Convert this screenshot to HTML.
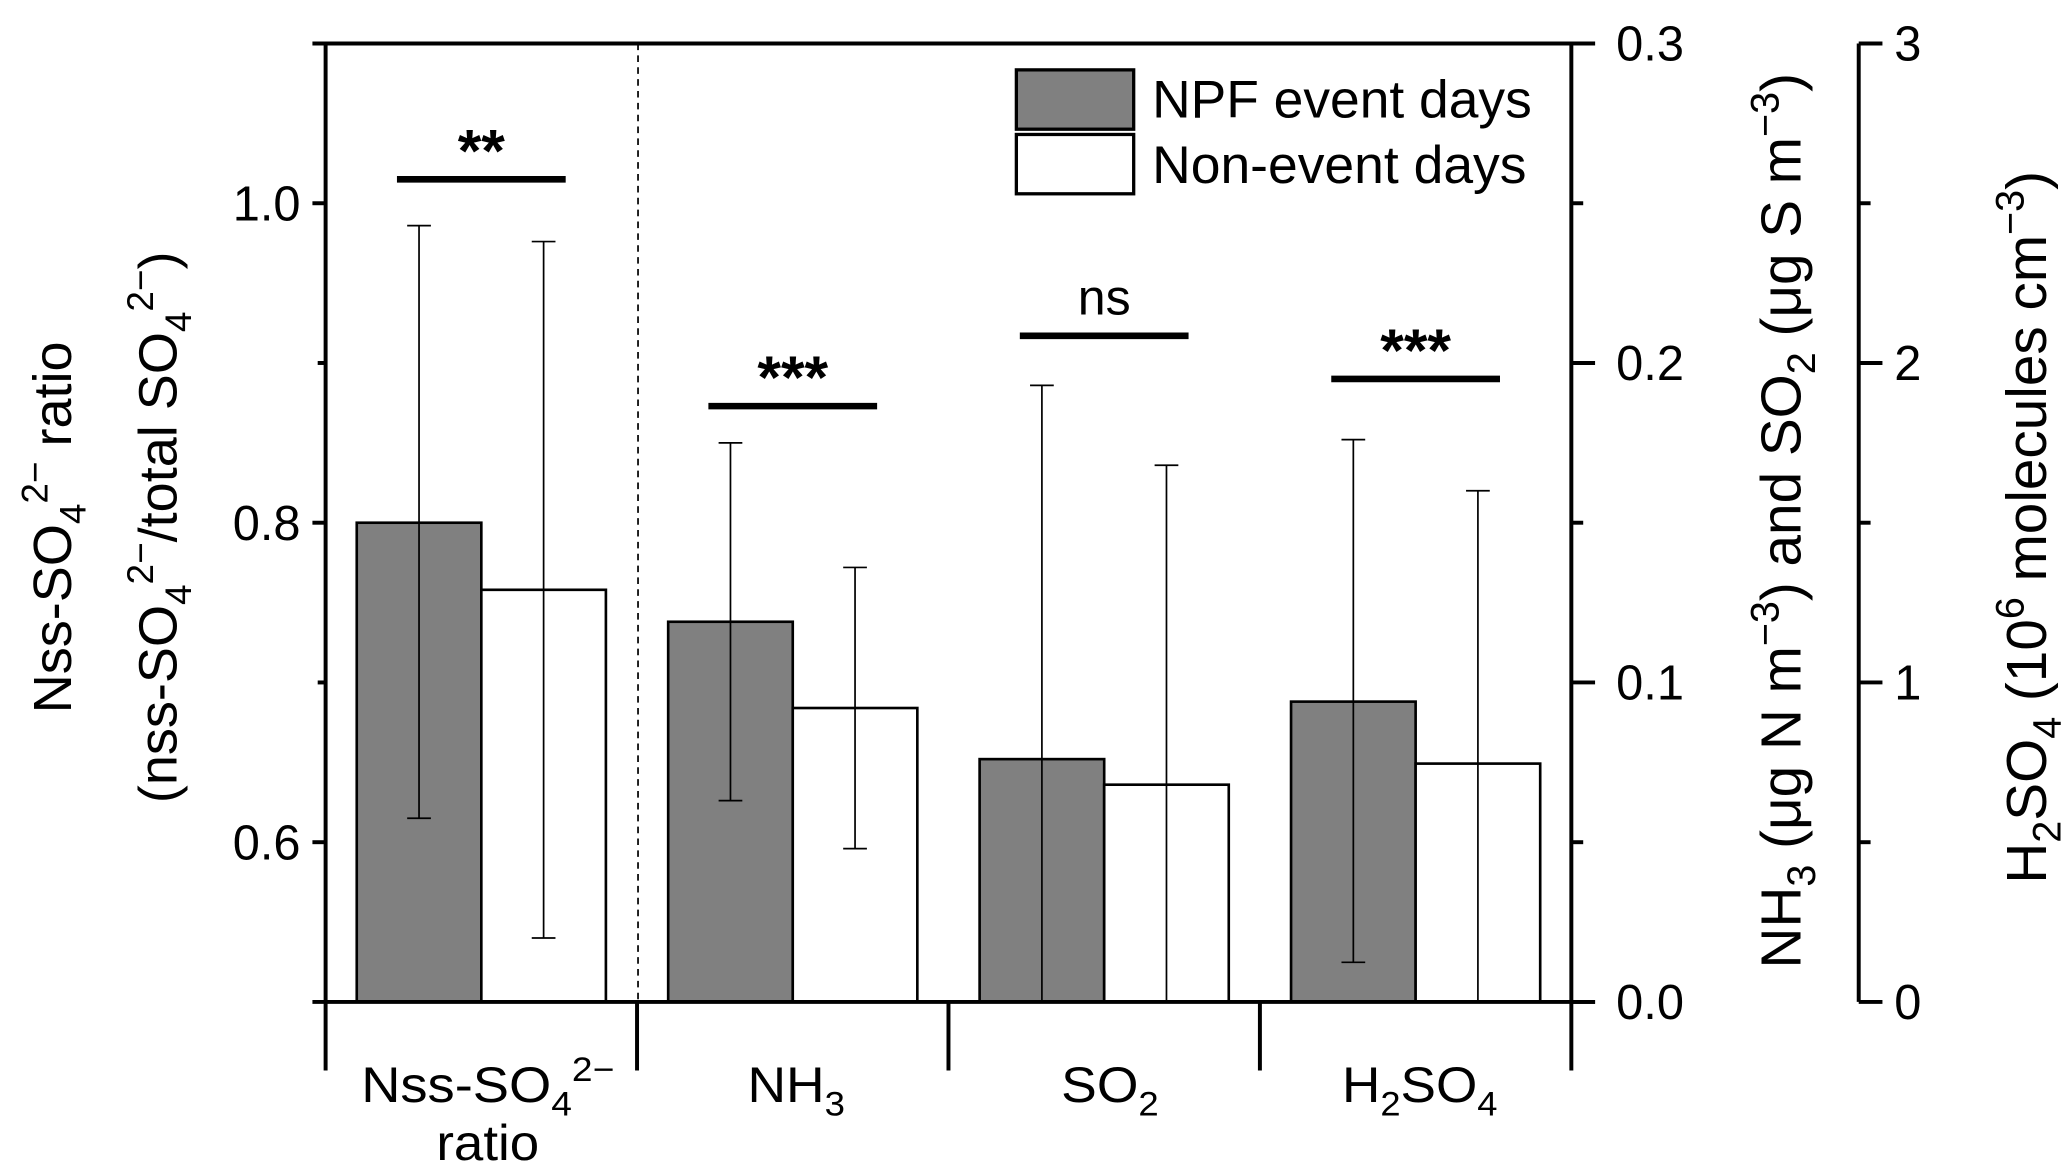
<!DOCTYPE html>
<html><head><meta charset="utf-8"><style>
html,body{margin:0;padding:0;background:#fff;}
svg{display:block;font-family:"Liberation Sans",Arial,sans-serif;}
</style></head><body>
<svg id="chart" width="2067" height="1172" viewBox="0 0 1568 889" preserveAspectRatio="none" xmlns="http://www.w3.org/2000/svg">
<defs><clipPath id="plotclip"><rect x="247" y="33" width="945" height="727"/></clipPath></defs>
<g id="marks" clip-path="url(#plotclip)"></g>
<g id="axes"></g>
</svg>
<script>
const categories = ["Nss-SO4 ratio","NH3","SO2","H2SO4"];
const axisOf = ["left","right","right","third"];
const npfValues = [0.800, 0.119, 0.076, 0.94];
const npfErrLow = [0.615, 0.063, -0.05, 0.124];
const npfErrHigh = [0.986, 0.175, 0.193, 1.76];
const nonValues = [0.758, 0.092, 0.068, 0.746];
const nonErrLow = [0.540, 0.048, -0.05, -0.2];
const nonErrHigh = [0.976, 0.136, 0.168, 1.60];
const sigLabels = ["**","***","ns","***"];
const sigLevelsLeft = [1.015, 0.873, 0.917, 0.890];
const leftTicks = [0.6, 0.8, 1.0];
const rightTicks = [0.0, 0.1, 0.2, 0.3];
const thirdTicks = [0, 1, 2, 3];

const NS="http://www.w3.org/2000/svg";
const TOP=33, BOT=760, L=247, R=1192, T3=1410;
const yLeft = v => BOT - (v-0.5)/(1.1-0.5)*(BOT-TOP);
const yRight = v => BOT - v/0.3*(BOT-TOP);
const yThird = v => BOT - v/3*(BOT-TOP);
const yFor = (i,v) => axisOf[i]==="left"?yLeft(v):axisOf[i]==="right"?yRight(v):yThird(v);
const groupW=(R-L)/categories.length;
const barW=94.5;
const marks=document.getElementById('marks');
const axes=document.getElementById('axes');
function mk(tag,attrs,parent){const e=document.createElementNS(NS,tag);for(const k in attrs)e.setAttribute(k,attrs[k]);(parent||axes).appendChild(e);return e;}

categories.forEach((c,i)=>{
  const cx=L+groupW*(i+0.5);
  const x1=cx-barW, x2=cx;
  const b1=mk('rect',{x:x1,y:yFor(i,npfValues[i]),width:barW,height:BOT-yFor(i,npfValues[i]),fill:'#808080',stroke:'#000','stroke-width':2},marks);
  
  
  const b2=mk('rect',{x:x2,y:yFor(i,nonValues[i]),width:barW,height:BOT-yFor(i,nonValues[i]),fill:'#fff',stroke:'#000','stroke-width':2},marks);
  
  
  [[x1+barW/2,npfErrLow[i],npfErrHigh[i]],[x2+barW/2,nonErrLow[i],nonErrHigh[i]]].forEach((e,j)=>{
    const g=mk('g',{},marks);
    
    
    const yl=yFor(i,e[1]), yh=yFor(i,e[2]);
    mk('line',{x1:e[0],x2:e[0],y1:yl,y2:yh,stroke:'#000','stroke-width':1.3},g);
    mk('line',{x1:e[0]-9,x2:e[0]+9,y1:yh,y2:yh,stroke:'#000','stroke-width':1.3},g);
    mk('line',{x1:e[0]-9,x2:e[0]+9,y1:yl,y2:yl,stroke:'#000','stroke-width':1.3},g);
  });
  const sy=yLeft(sigLevelsLeft[i]);
  const sl=mk('line',{x1:cx-64,x2:cx+64,y1:sy,y2:sy,stroke:'#000','stroke-width':5});
  
  
  const st=mk('text',{x:cx,y:sigLabels[i]==='ns'?sy-16:sy-6,'text-anchor':'middle','font-size':sigLabels[i]==='ns'?38:46,'font-weight':sigLabels[i]==='ns'?'normal':'bold'});
  st.textContent=sigLabels[i];
  
  
});
mk('line',{x1:484,x2:484,y1:TOP,y2:BOT,stroke:'#000','stroke-width':1.3,'stroke-dasharray':'5,4'});
mk('line',{x1:237,x2:1210,y1:TOP,y2:TOP,stroke:'#000','stroke-width':3});
mk('line',{x1:237,x2:1210,y1:BOT,y2:BOT,stroke:'#000','stroke-width':3});
mk('line',{x1:L,x2:L,y1:TOP,y2:812,stroke:'#000','stroke-width':3});
mk('line',{x1:R,x2:R,y1:TOP,y2:812,stroke:'#000','stroke-width':3});
for(let i=1;i<categories.length;i++){const x=L+groupW*i;mk('line',{x1:x,x2:x,y1:BOT,y2:812,stroke:'#000','stroke-width':3});}
[0.6,0.7,0.8,0.9,1.0].forEach(v=>{const maj=leftTicks.some(t=>Math.abs(t-v)<1e-6);mk('line',{x1:L-(maj?10:6),x2:L,y1:yLeft(v),y2:yLeft(v),stroke:'#000','stroke-width':3});});
leftTicks.forEach(v=>{const t=mk('text',{x:228,y:yLeft(v)+13,'text-anchor':'end','font-size':37});t.textContent=v.toFixed(1);});
[0,0.05,0.1,0.15,0.2,0.25,0.3].forEach(v=>{const maj=Math.abs(v*10-Math.round(v*10))<1e-6;mk('line',{x1:R,x2:R+(maj?18:9),y1:yRight(v),y2:yRight(v),stroke:'#000','stroke-width':3});});
rightTicks.forEach(v=>{const t=mk('text',{x:1226,y:yRight(v)+13,'font-size':37});t.textContent=v.toFixed(1);});
mk('line',{x1:T3,x2:T3,y1:TOP,y2:BOT,stroke:'#000','stroke-width':3});
[0,0.5,1,1.5,2,2.5,3].forEach(v=>{const maj=Number.isInteger(v);mk('line',{x1:T3,x2:T3+(maj?18:9),y1:yThird(v),y2:yThird(v),stroke:'#000','stroke-width':3});});
thirdTicks.forEach(v=>{const t=mk('text',{x:1437,y:yThird(v)+13,'font-size':37});t.textContent=String(v);});
</script>
<script>
(function(){
const svg=document.getElementById('chart');
svg.insertAdjacentHTML('beforeend',`
<g>
<rect x="771" y="53" width="89" height="45" fill="#808080" stroke="#000" stroke-width="2.5"/>
<rect x="771" y="102" width="89" height="45" fill="#fff" stroke="#000" stroke-width="2.5"/>
<text x="874" y="89" font-size="40" textLength="288" lengthAdjust="spacingAndGlyphs">NPF event days</text>
<text x="874" y="139" font-size="40" textLength="284" lengthAdjust="spacingAndGlyphs">Non-event days</text>
</g>
<g font-size="38" text-anchor="middle">
<text x="370" y="836" textLength="192" lengthAdjust="spacingAndGlyphs">Nss-SO<tspan font-size="26" dy="10">4</tspan><tspan font-size="26" dy="-26">2−</tspan></text>
<text x="370" y="880" textLength="78" lengthAdjust="spacingAndGlyphs">ratio</text>
<text x="604" y="836" textLength="74" lengthAdjust="spacingAndGlyphs">NH<tspan font-size="26" dy="10">3</tspan></text>
<text x="842" y="836" textLength="74" lengthAdjust="spacingAndGlyphs">SO<tspan font-size="26" dy="10">2</tspan></text>
<text x="1077" y="836" textLength="118" lengthAdjust="spacingAndGlyphs">H<tspan font-size="26" dy="10">2</tspan><tspan dy="-10">SO</tspan><tspan font-size="26" dy="10">4</tspan></text>
</g>
<text transform="translate(54,400) rotate(-90)" text-anchor="middle" font-size="41">Nss-SO<tspan font-size="28" dy="11">4</tspan><tspan font-size="28" dy="-29">2−</tspan><tspan dy="18"> ratio</tspan></text>
<text transform="translate(134,400) rotate(-90)" text-anchor="middle" font-size="41">(nss-SO<tspan font-size="28" dy="11">4</tspan><tspan font-size="28" dy="-29">2−</tspan><tspan dy="18">/total SO</tspan><tspan font-size="28" dy="11">4</tspan><tspan font-size="28" dy="-29">2−</tspan><tspan dy="18">)</tspan></text>
<text transform="translate(1366,395) rotate(-90)" text-anchor="middle" font-size="43">NH<tspan font-size="30" dy="11">3</tspan><tspan dy="-11"> (μg N m</tspan><tspan font-size="30" dy="-17">−3</tspan><tspan dy="17">) and SO</tspan><tspan font-size="30" dy="11">2</tspan><tspan dy="-11"> (μg S m</tspan><tspan font-size="30" dy="-17">−3</tspan><tspan dy="17">)</tspan></text>
<text transform="translate(1552,400) rotate(-90)" text-anchor="middle" font-size="43">H<tspan font-size="30" dy="11">2</tspan><tspan dy="-11">SO</tspan><tspan font-size="30" dy="11">4</tspan><tspan dy="-11"> (10</tspan><tspan font-size="30" dy="-17">6</tspan><tspan dy="17"> molecules cm</tspan><tspan font-size="30" dy="-17">−3</tspan><tspan dy="17">)</tspan></text>
`);
})();
</script>
</body></html>
